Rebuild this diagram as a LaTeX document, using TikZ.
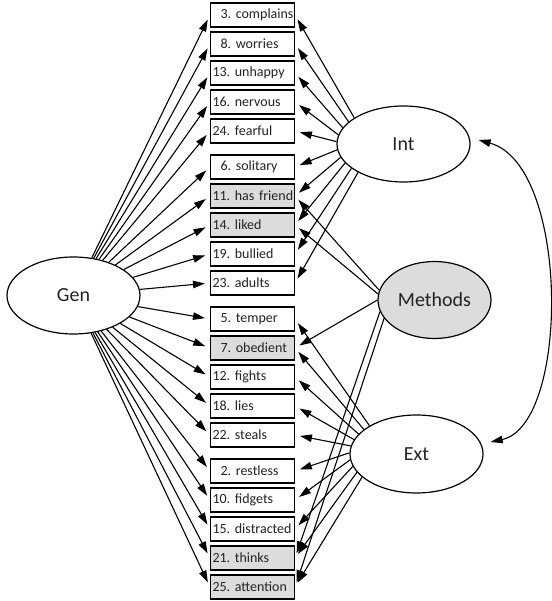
\documentclass[tikz,border=0pt]{standalone}
\usepackage{fontspec}
\setmainfont{Carlito}
\usetikzlibrary{arrows.meta,shapes.geometric}
\definecolor{shade}{RGB}{220,220,220}
\definecolor{ink}{RGB}{35,35,35}
\frenchspacing
\hbadness=10000 \hfuzz=20pt
\begin{document}
\begin{tikzpicture}[x=1pt,y=1pt,
  item/.style={draw, line width=1.1pt, inner xsep=2pt, inner ysep=0pt,
    text width=80pt, minimum height=24pt, align=left, text=ink,
    font=\fontsize{14}{16}\selectfont},
  white/.style={item, fill=white},
  grey/.style={item, fill=shade},
  factor/.style={draw, ellipse, line width=1.2pt, inner sep=0pt, text=ink,
    font=\fontsize{20}{22}\selectfont},
  load/.style={line width=1.1pt, -{Triangle[length=12pt,width=7.5pt]}, shorten >=5pt},
]
\useasboundingbox (0,0) rectangle (551,601);

% indicator boxes, five per group
\foreach \lab/\ind/\sty [count=\k] in {
  3. complains/8/white, 8. worries/8/white, 13. unhappy/0/white,
  16. nervous/0/white, 24. fearful/0/white,
  6. solitary/8/white, 11. has friend/0/grey, 14. liked/0/grey,
  19. bullied/0/white, 23. adults/0/white,
  5. temper/8/white, 7. obedient/8/grey, 12. fights/0/white,
  18. lies/0/white, 22. steals/0/white,
  2. restless/8/white, 10. fidgets/0/white, 15. distracted/0/white,
  21. thinks/0/grey, 25. attention/0/grey} {
  \pgfmathsetmacro\yy{601-(15+29*(\k-1)+7*floor((\k-1)/5))}
  \node[\sty] (b\k) at (252.5,\yy) {\mbox{\hspace*{\ind pt}\lab}};
}

% latent factors
\node[factor, minimum width=133pt, minimum height=77pt] (gen) at (73.5,305.5) {Gen};
\node[factor, minimum width=133pt, minimum height=76pt] (int) at (403.5,457) {Int};
\node[factor, fill=shade, minimum width=113pt, minimum height=77pt] (met) at (434.5,301) {Methods};
\node[factor, minimum width=133pt, minimum height=78pt] (ext) at (416.5,147) {Ext};

% general factor loads on every item
\foreach \k in {1,...,20} \draw[load] (gen) -- (b\k.west);

% internalising items
\foreach \k in {1,...,10} {
  \pgfmathtruncatemacro\a{152+6.67*(\k-1)}
  \draw[load] (int.\a) -- (b\k.east);
}

% externalising items
\foreach \k in {11,...,20} {
  \pgfmathtruncatemacro\a{149+6.1*(\k-11)}
  \draw[load] (ext.\a) -- (b\k.east);
}

% method factor on the positively worded items
\draw[load] (met.170) -- (b7.east);
\draw[load] (met.174) -- (b8.east);
\draw[load] (met.180) -- (b12.east);
\draw[load] (met.192) -- (b19.east);
\draw[load] (met.200) -- (b20.east);

% covariance between Int and Ext
\coordinate (intR) at ([xshift=8pt,yshift=4pt]int.east);
\coordinate (extR) at ([xshift=7pt,yshift=12pt]ext.east);
\draw[line width=1.1pt, {Triangle[length=12pt,width=7.5pt]}-{Triangle[length=12pt,width=7.5pt]}]
  (intR) .. controls (570,436) and (570,176) .. (extR);
\end{tikzpicture}
\end{document}
